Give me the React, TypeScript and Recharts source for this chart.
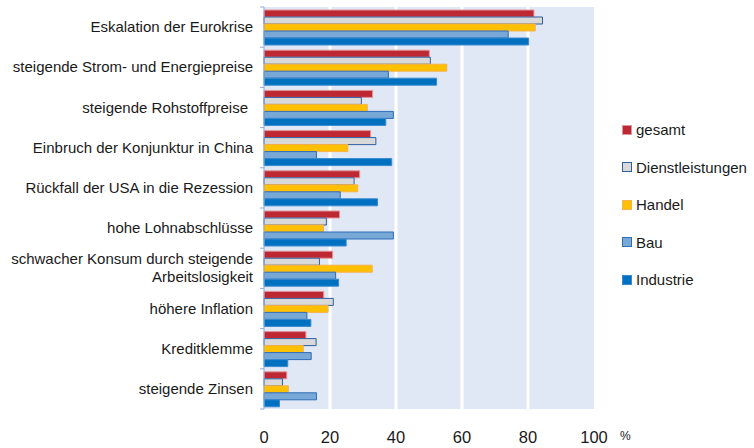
import React from "react";
import { BarChart, Bar, XAxis, YAxis, CartesianGrid } from "recharts";

const categories = [
  "Eskalation der Eurokrise",
  "steigende Strom- und Energiepreise",
  "steigende Rohstoffpreise",
  "Einbruch der Konjunktur in China",
  "Rückfall der USA in die Rezession",
  "hohe Lohnabschlüsse",
  "schwacher Konsum durch steigende|Arbeitslosigkeit",
  "höhere Inflation",
  "Kreditklemme",
  "steigende Zinsen",
];

const gesamt = [81.8, 50.1, 32.9, 32.3, 29.0, 22.9, 20.8, 18.1, 12.7, 6.9];
const dienstleistungen = [84.4, 50.4, 29.5, 33.9, 27.3, 18.9, 16.8, 21.0, 15.8, 5.6];
const handel = [82.2, 55.4, 31.3, 25.4, 28.4, 18.0, 32.8, 19.4, 11.9, 7.4];
const bau = [74.0, 37.7, 39.2, 15.9, 23.1, 39.2, 21.7, 13.0, 14.3, 15.9];
const industrie = [80.2, 52.3, 36.9, 38.7, 34.4, 24.9, 22.6, 14.2, 7.2, 4.7];

const xTicks = [0, 20, 40, 60, 80, 100];

const series = [
  { key: "gesamt", name: "gesamt", fill: "#be2832", stroke: "#e0959a" },
  { key: "dienstleistungen", name: "Dienstleistungen", fill: "#d9d9d9", stroke: "#2f5f9f" },
  { key: "handel", name: "Handel", fill: "#ffc000", stroke: "#f7b24a" },
  { key: "bau", name: "Bau", fill: "#78a8d6", stroke: "#2e6db8" },
  { key: "industrie", name: "Industrie", fill: "#0070c0", stroke: "#3a8ad0" },
];

const data = categories.map((c, i) => ({
  label: c,
  gesamt: gesamt[i],
  dienstleistungen: dienstleistungen[i],
  handel: handel[i],
  bau: bau[i],
  industrie: industrie[i],
}));

const font = "Liberation Sans, Arial, sans-serif";

function CategoryTick(props: any) {
  const { y, payload, index } = props;
  const lines = String(payload.value).split("|");
  const x = index === 2 ? 248 : 253;
  const half = 20.1;
  return (
    <g>
      <line x1={260} x2={264} y1={y - half} y2={y - half} stroke="#8faadc" />
      {index === categories.length - 1 && (
        <line x1={260} x2={264} y1={y + half} y2={y + half} stroke="#8faadc" />
      )}
      <text x={x} y={y} textAnchor="end" fontSize={15} fontFamily={font} fill="#1a1a1a">
        {lines.map((l, i) => (
          <tspan key={i} x={x} dy={lines.length > 1 ? (i === 0 ? -4 : 18) : 5}>
            {l}
          </tspan>
        ))}
      </text>
    </g>
  );
}

function ValueTick(props: any) {
  const { x, payload } = props;
  return (
    <text x={x} y={443} textAnchor="middle" fontSize={16.5} fontFamily={font} fill="#1a1a1a">
      {payload.value}
    </text>
  );
}

export default function App() {
  return (
    <div style={{ position: "absolute", left: 0, top: 0, width: 754, height: 448, background: "#fff" }}>
      <BarChart
        width={754}
        height={448}
        data={data}
        layout="vertical"
        margin={{ top: 7, right: 160, bottom: 0, left: 0 }}
        barCategoryGap={3}
        barGap={0}
      >
        <CartesianGrid
          horizontal={false}
          fill="#e1e8f5"
          fillOpacity={1}
          stroke="#ffffff"
          strokeWidth={3}
          verticalValues={[20, 40, 60, 80]}
        />
        <XAxis
          type="number"
          domain={[0, 100]}
          ticks={xTicks}
          axisLine={false}
          tickLine={false}
          tick={<ValueTick />}
          interval={0}
          height={39}
        />
        <YAxis
          type="category"
          dataKey="label"
          width={264}
          axisLine={{ stroke: "#8faadc", strokeWidth: 1 }}
          tickLine={false}
          tick={<CategoryTick />}
          interval={0}
        />
        {series.map((s) => (
          <Bar
            key={s.key}
            dataKey={s.key}
            name={s.name}
            fill={s.fill}
            stroke={s.stroke}
            strokeWidth={1}
            isAnimationActive={false}
          />
        ))}
      </BarChart>
      <div
        style={{
          position: "absolute",
          left: 622,
          top: 111,
          fontFamily: font,
          fontSize: 15,
          color: "#1a1a1a",
        }}
      >
        {series.map((s) => (
          <div key={s.key} style={{ display: "flex", alignItems: "center", height: 37.5 }}>
            <span
              style={{
                display: "inline-block",
                width: 8,
                height: 8,
                background: s.fill,
                border: `1px solid ${s.stroke}`,
                marginRight: 4,
              }}
            />
            <span>{s.name}</span>
          </div>
        ))}
      </div>
      <div
        style={{
          position: "absolute",
          left: 620,
          top: 429,
          fontFamily: font,
          fontSize: 12,
          color: "#1a1a1a",
        }}
      >
        %
      </div>
    </div>
  );
}
